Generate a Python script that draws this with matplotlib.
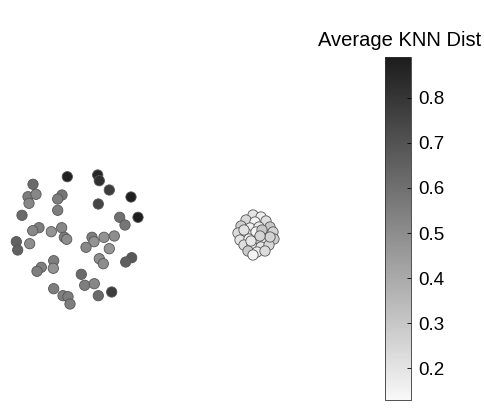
import matplotlib.pyplot as plt
from matplotlib.colors import LinearSegmentedColormap

plt.rcParams['font.family'] = ['Liberation Sans', 'DejaVu Sans']

# sparse cluster (left)
x_sparse = [67.3, 97.7, 99.3, 33, 109.3, 28, 36, 62, 57.7, 29, 131, 98.3, 57.7, 22,
            119.7, 138, 125, 39, 32.7, 51.3, 61.7, 64.3, 66.7, 16.3, 29.7, 17.7, 92,
            94, 104, 114.3, 86, 109.3, 131.7, 125.7, 53.7, 41.3, 37, 53.3, 99.3, 103.3,
            81.3, 84.7, 94.3, 53.7, 63, 68, 70, 98.3, 111.7]
y_sparse = [176.7, 175, 180.7, 184.3, 190, 196.7, 194.3, 195, 199, 203.3, 197, 204,
            210.3, 215.3, 217.3, 217.3, 225, 227.7, 230.7, 231.7, 227.7, 237.3, 239.3,
            241.7, 243.7, 250, 237.3, 241.7, 237.3, 236, 247.3, 248.7, 257.7, 262, 260.7,
            267.3, 271.3, 268.3, 258.7, 263.7, 274.3, 285.3, 283.7, 288.7, 295.7, 296.7,
            304, 295.7, 292]
d_sparse = [0.87, 0.85, 0.82, 0.62, 0.78, 0.55, 0.52, 0.58, 0.55, 0.52, 0.88, 0.75,
            0.55, 0.62, 0.6, 0.88, 0.58, 0.55, 0.52, 0.48, 0.52, 0.55, 0.5, 0.65, 0.5,
            0.65, 0.55, 0.48, 0.48, 0.5, 0.52, 0.47, 0.68, 0.66, 0.55, 0.55, 0.55, 0.48,
            0.5, 0.5, 0.62, 0.55, 0.52, 0.55, 0.55, 0.55, 0.55, 0.62, 0.78]

# dense cluster (right)
x_dense = [253, 261, 246, 255, 266, 241, 250, 259, 270, 238, 247, 256, 264, 273, 240,
           249, 258, 266, 274, 244, 252, 261, 269, 248, 257, 265, 253, 262, 244, 270,
           251, 260]
y_dense = [215, 217, 220, 222, 221, 226, 228, 227, 227, 233, 234, 232, 234, 232, 240,
           239, 240, 241, 239, 245, 246, 247, 245, 251, 252, 251, 255, 230, 230, 237,
           241, 236]
d_dense = [0.2, 0.17, 0.24, 0.15, 0.22, 0.27, 0.16, 0.19, 0.3, 0.23, 0.18, 0.14, 0.21,
           0.26, 0.2, 0.15, 0.25, 0.17, 0.28, 0.22, 0.16, 0.2, 0.24, 0.29, 0.18, 0.23,
           0.15, 0.3, 0.21, 0.26, 0.19, 0.25]

cbar_ticks = [0.2, 0.3, 0.4, 0.5, 0.6, 0.7, 0.8]
vmin, vmax = 0.13, 0.89

cmap = LinearSegmentedColormap.from_list('knn', ['#f8f8f8', '#1c1c1c'])

fig = plt.figure(figsize=(4.85, 4.13), dpi=100)
ax = fig.add_axes([0, 0, 1, 1])
ax.set_xlim(0, 485)
ax.set_ylim(413, 0)
ax.axis('off')

sc = ax.scatter(x_sparse + x_dense, y_sparse + y_dense, c=d_sparse + d_dense,
                cmap=cmap, vmin=vmin, vmax=vmax, s=55, edgecolors='#555555',
                linewidths=0.6)

cax = fig.add_axes([385 / 485, 13 / 413, 26 / 485, 343 / 413])
cb = fig.colorbar(sc, cax=cax, ticks=cbar_ticks)
cb.outline.set_linewidth(0.6)
cb.outline.set_edgecolor('#333333')
cax.tick_params(direction='in', length=3, width=0.6, labelsize=13.5, pad=5)
cax.set_yticklabels([f'{t:.1f}' for t in cbar_ticks])
fig.text(400 / 485, 1 - 41 / 413, 'Average KNN Dist', ha='center', va='center', fontsize=14.5)

fig.savefig('out.png', dpi=100)
